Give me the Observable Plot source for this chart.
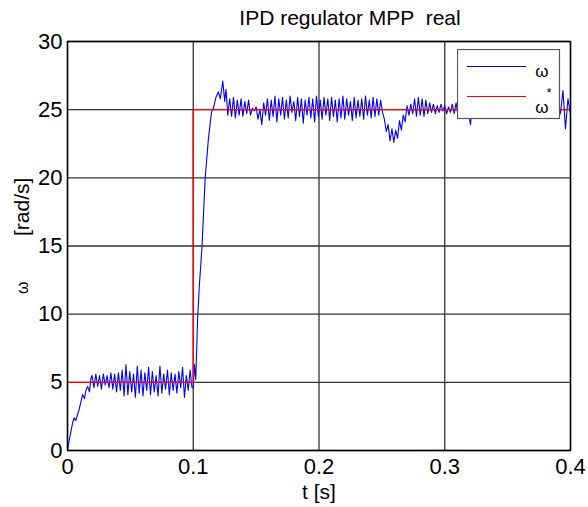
<!DOCTYPE html>
<html>
<head>
<meta charset="utf-8">
<script src="https://cdn.jsdelivr.net/npm/d3@7"></script>
<script src="https://cdn.jsdelivr.net/npm/@observablehq/plot@0.6"></script>
<style>
  html, body { margin: 0; padding: 0; background: #fff; }
  #wrap { position: relative; width: 588px; height: 507px; }
  #legend { position: absolute; left: 457px; top: 49px; }
</style>
</head>
<body>
<div id="wrap">
  <div id="chart"></div>
  <svg id="legend" width="104" height="71">
    <rect x="0.5" y="0.5" width="102" height="69" fill="#fff" stroke="#555" stroke-width="1.2"/>
    <line x1="10" x2="69" y1="17.5" y2="17.5" stroke="#0000ff" stroke-width="1.2"/>
    <text x="85" y="28" font-family="Liberation Sans, Arial, sans-serif" font-size="17" text-anchor="middle">ω</text>
    <line x1="10" x2="69" y1="47.5" y2="47.5" stroke="#ff0000" stroke-width="1.2"/>
    <text x="92" y="48" font-family="Liberation Sans, Arial, sans-serif" font-size="13" text-anchor="middle">*</text>
    <text x="85" y="64" font-family="Liberation Sans, Arial, sans-serif" font-size="17" text-anchor="middle">ω</text>
  </svg>
</div>
<script>
// ---- data ----
const title = "IPD regulator MPP  real";
const xLabel = "t [s]";
const yLabelSymbol = "ω";
const yLabelUnit = "[rad/s]";
const xTicks = [0, 0.1, 0.2, 0.3, 0.4];
const xTickLabels = ["0", "0.1", "0.2", "0.3", "0.4"];
const yTicks = [0, 5, 10, 15, 20, 25, 30];

// reference speed ω*
const refTime = [0, 0.1, 0.1, 0.4];
const refOmega = [5, 5, 25, 25];

// measured speed ω : start-up (0 – 0.1 s)
const timeStart = [
  0, 0.0013, 0.004, 0.0053, 0.0066, 0.0092, 0.012, 0.0135, 0.0146, 0.016,
  0.0175, 0.0186,
  0.0195, 0.021, 0.0225, 0.024, 0.0255, 0.027, 0.0285, 0.030, 0.0315, 0.033,
  0.0345, 0.036, 0.0375, 0.039, 0.0405, 0.042, 0.0435, 0.045, 0.0465, 0.048,
  0.0495, 0.051, 0.0525, 0.054, 0.0555, 0.057, 0.0585, 0.060, 0.0615, 0.063,
  0.0645, 0.066, 0.0675, 0.069, 0.0705, 0.072, 0.0735, 0.075, 0.0765, 0.078,
  0.0795, 0.081, 0.0825, 0.084, 0.0855, 0.087, 0.0885, 0.090, 0.0915, 0.093,
  0.0945, 0.096, 0.0975, 0.099
];
const omegaStart = [
  0, 0.7, 2.0, 2.4, 2.2, 3.0, 4.1, 3.8, 4.4, 4.7,
  4.3, 5.3,
  5.5, 4.6, 5.6, 4.7, 5.5, 4.5, 5.6, 4.8, 5.5, 4.6,
  5.7, 4.5, 5.6, 4.3, 5.7, 4.4, 5.9, 4.0, 6.3, 4.1,
  5.8, 4.3, 5.6, 3.9, 6.2, 4.2, 5.9, 4.0, 5.7, 4.4,
  6.1, 4.1, 5.8, 4.3, 5.5, 4.0, 6.2, 4.2, 5.6, 4.5,
  5.9, 4.1, 5.7, 4.4, 5.6, 4.2, 5.8, 4.6, 6.1, 3.9,
  5.5, 4.4, 5.9, 4.6
];

// step response (0.1 – 0.25 s)
const timeStep = [
  0.100, 0.101, 0.102, 0.1035, 0.105, 0.107, 0.1095, 0.112, 0.1145, 0.116,
  0.118, 0.120, 0.1215, 0.1235, 0.125, 0.126, 0.1275,
  0.129, 0.1305, 0.132, 0.1335, 0.135, 0.1365, 0.138, 0.1395, 0.141, 0.1425,
  0.144, 0.1455, 0.147, 0.1485, 0.150, 0.1515, 0.153, 0.1545, 0.156, 0.1575,
  0.159, 0.1605, 0.162, 0.1635, 0.165, 0.1665, 0.168, 0.1695, 0.171, 0.1725,
  0.174, 0.1755, 0.177, 0.1785, 0.180, 0.1815, 0.183, 0.1845, 0.186, 0.1875,
  0.189, 0.1905, 0.192, 0.1935, 0.195, 0.1965, 0.198, 0.1995, 0.201, 0.2025,
  0.204, 0.2055, 0.207, 0.2085, 0.210, 0.2115, 0.213, 0.2145, 0.216, 0.2175,
  0.219, 0.2205, 0.222, 0.2235, 0.225, 0.2265, 0.228, 0.2295, 0.231, 0.2325,
  0.234, 0.2355, 0.237, 0.2385, 0.240, 0.2415, 0.243, 0.2445, 0.246, 0.2475,
  0.249, 0.2505
];
const omegaStep = [
  4.6, 6.3, 5.2, 9.8, 12.3, 15.0, 20.0, 22.8, 24.8, 25.1,
  25.9, 26.3, 25.8, 27.1, 25.6, 26.5, 24.6,
  25.8, 24.5, 25.9, 24.4, 25.7, 24.6, 25.8, 24.5, 25.6, 24.7,
  25.7, 24.6, 25.1, 24.9, 25.2, 24.3, 25.0, 23.9, 25.5, 24.6,
  25.8, 24.2, 25.7, 24.5, 26.0, 24.1, 25.8, 24.6, 25.9, 24.3,
  25.7, 24.4, 26.0, 24.8, 25.6, 24.2, 25.9, 24.5, 25.8, 24.0,
  25.7, 24.6, 25.9, 24.4, 25.8, 24.1, 26.0, 24.5, 25.7, 24.3,
  25.9, 24.6, 25.8, 24.2, 25.9, 24.5, 25.7, 24.1, 25.8, 24.4,
  26.0, 24.3, 25.8, 24.6, 25.6, 24.2, 25.9, 24.4, 25.7, 24.5,
  25.8, 24.3, 26.0, 24.6, 25.7, 24.4, 25.9, 24.5, 25.8, 24.6,
  25.7, 24.8
];

// load disturbance and recovery (0.25 – 0.4 s)
const timeLoad = [
  0.252, 0.2535, 0.255, 0.2565, 0.258, 0.2595, 0.261, 0.2625, 0.264, 0.2655,
  0.267, 0.2685, 0.270,
  0.2715, 0.273, 0.2745, 0.276, 0.2775, 0.279, 0.2805, 0.282, 0.2835, 0.285,
  0.2865, 0.288, 0.2895, 0.291, 0.2925, 0.294, 0.2955, 0.297, 0.2985, 0.300,
  0.3015, 0.303, 0.3045, 0.306, 0.3075, 0.309, 0.3105,
  0.313, 0.315, 0.317, 0.319, 0.3205, 0.322, 0.324, 0.326, 0.328,
  0.330, 0.332, 0.334, 0.336, 0.338, 0.340, 0.342, 0.344, 0.346, 0.348,
  0.350, 0.352, 0.354, 0.356, 0.358, 0.360, 0.362, 0.364, 0.366, 0.368,
  0.370, 0.372, 0.374, 0.376, 0.378, 0.380, 0.382, 0.384, 0.386, 0.388,
  0.390, 0.392, 0.394, 0.396, 0.398, 0.400
];
const omegaLoad = [
  24.3, 23.4, 23.9, 22.7, 23.6, 22.6, 23.5, 22.9, 24.2, 23.5,
  24.6, 24.1, 25.3,
  24.6, 25.4, 24.7, 25.8, 24.5, 25.9, 24.6, 25.8, 24.5, 25.7,
  24.7, 25.5, 24.8, 25.4, 24.7, 25.3, 24.8, 25.4, 24.9, 25.3,
  24.7, 25.2, 24.8, 25.4, 24.7, 25.5, 24.6,
  25.6, 24.5, 25.7, 24.6, 23.9, 25.6, 24.5, 25.4, 24.7,
  25.5, 24.6, 25.3, 24.8, 25.6, 24.5, 25.4, 24.7, 25.5, 24.6,
  25.3, 24.8, 25.6, 24.5, 25.4, 24.7, 25.5, 24.6, 25.3, 24.8,
  25.6, 24.5, 25.4, 24.7, 25.5, 24.6, 25.3, 24.8, 25.6, 24.5,
  25.4, 24.7, 26.4, 23.6, 25.8, 24.6
];

// ---- build tables ----
const time = [...timeStart, ...timeStep, ...timeLoad];
const omega = [...omegaStart, ...omegaStep, ...omegaLoad];
const measured = time.map((t, i) => ({t, w: omega[i]}));
const reference = refTime.map((t, i) => ({t, w: refOmega[i]}));

const font = "Liberation Sans, Arial, Helvetica, sans-serif";
const gridStyle = {stroke: "#333", strokeOpacity: 1, strokeWidth: 1.3};

const chart = Plot.plot({
  width: 588,
  height: 507,
  marginLeft: 67,
  marginRight: 18,
  marginTop: 41,
  marginBottom: 57,
  style: {fontFamily: font, fontSize: "22px", background: "#fff", color: "#000", overflow: "visible"},
  x: {domain: [0, 0.4]},
  y: {domain: [0, 30]},
  marks: [
    Plot.gridX(xTicks, gridStyle),
    Plot.gridY(yTicks, gridStyle),
    Plot.line(measured, {x: "t", y: "w", stroke: "#0000ff", strokeWidth: 1.1}),
    Plot.line(reference, {x: "t", y: "w", stroke: "#ff0000", strokeWidth: 1.4}),
    Plot.frame({stroke: "#000", strokeWidth: 1.4}),
    Plot.axisX(xTicks, {tickSize: 0, tickPadding: 8, tickFormat: (d, i) => xTickLabels[i], label: null, fontSize: 22}),
    Plot.axisY(yTicks, {tickSize: 0, tickPadding: 5, label: null, fontSize: 22}),
    Plot.text([title], {frameAnchor: "top", dx: 31, dy: -23, lineAnchor: "middle", fontSize: 21, fill: "#000"}),
    Plot.text([xLabel], {frameAnchor: "bottom", dy: 42, lineAnchor: "middle", fontSize: 21, fill: "#000"}),
    Plot.text([yLabelUnit], {frameAnchor: "left", dx: -45, dy: -10, rotate: -90, lineAnchor: "middle", fontSize: 21, fill: "#000"}),
    Plot.text([yLabelSymbol], {frameAnchor: "left", dx: -45, dy: 48, rotate: -90, lineAnchor: "middle", fontSize: 16, fill: "#000"})
  ]
});
document.getElementById("chart").appendChild(chart);
</script>
</body>
</html>
